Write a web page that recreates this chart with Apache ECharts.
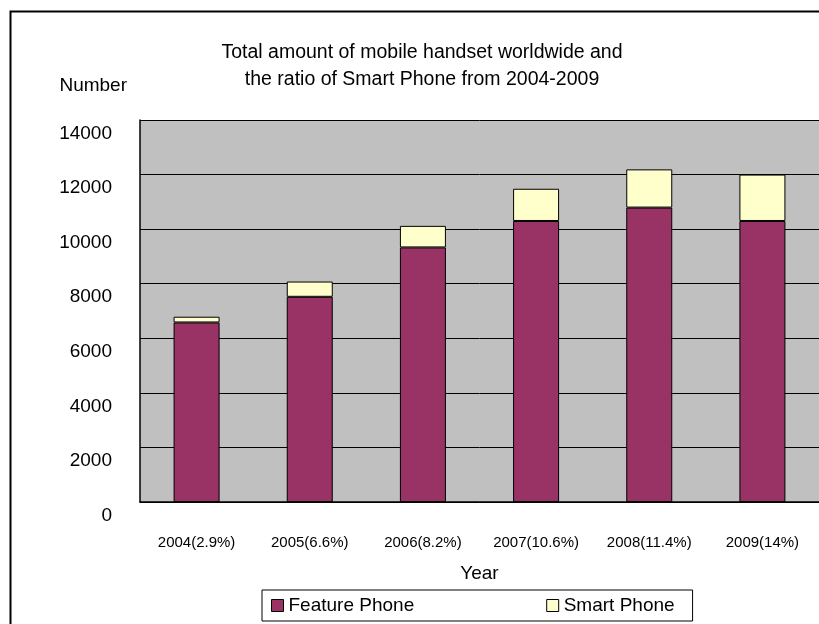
<!DOCTYPE html>
<html>
<head>
<meta charset="utf-8">
<script src="https://cdn.jsdelivr.net/npm/echarts@6/dist/echarts.min.js"></script>
<style>
  html, body { margin: 0; padding: 0; background: #fff; }
  #main { width: 819px; height: 624px; }
</style>
</head>
<body>
<div id="main"></div>
<script>
// data
var years = ['2004(2.9%)', '2005(6.6%)', '2006(8.2%)', '2007(10.6%)', '2008(11.4%)', '2009(14%)'];
var featurePhone = [6580, 7520, 9330, 10300, 10790, 10300];
var smartPhone = [210, 560, 790, 1180, 1400, 1700];
var yTicks = [0, 2000, 4000, 6000, 8000, 10000, 12000, 14000];

var font = '"Liberation Sans", Arial, sans-serif';
var chart = echarts.init(document.getElementById('main'), null, { renderer: 'canvas' });

function initOption() {
  return {
    backgroundColor: '#fff',
    animation: false,
    textStyle: { fontFamily: font, color: '#000' },
    title: {
      text: 'Total amount of mobile handset worldwide and\nthe ratio of Smart Phone from 2004-2009',
      left: 417,
      top: 34,
      textAlign: 'center',
      textStyle: { fontFamily: font, fontSize: 19.5, fontWeight: 'normal', color: '#000', lineHeight: 27 }
    },
    legend: {
      left: 262,
      top: 590,
      padding: [6, 18, 6, 9],
      borderColor: '#000',
      borderWidth: 1,
      itemGap: 132,
      itemWidth: 12,
      itemHeight: 12,
      icon: 'rect',
      textStyle: { fontFamily: font, fontSize: 19, color: '#000' },
      data: [
        { name: 'Feature Phone', itemStyle: { borderColor: '#000', borderWidth: 1 } },
        { name: 'Smart Phone', itemStyle: { borderColor: '#000', borderWidth: 1 } }
      ]
    },
    grid: { left: 140, top: 120, width: 681, bottom: 122, backgroundColor: '#C0C0C0', show: true, borderWidth: 0 },
    xAxis: {
      type: 'category',
      data: years,
      name: 'Year',
      nameLocation: 'middle',
      nameGap: 62,
      nameTextStyle: { fontFamily: font, fontSize: 19, color: '#000' },
      axisLine: { lineStyle: { color: '#000', width: 1.5 } },
      axisTick: { inside: true, length: 5, lineStyle: { color: '#000' } },
      axisLabel: { fontFamily: font, fontSize: 15, color: '#000', margin: 33, interval: 0, hideOverlap: false }
    },
    yAxis: {
      type: 'value',
      min: yTicks[0],
      max: yTicks[yTicks.length - 1],
      interval: 2000,
      name: 'Number',
      nameLocation: 'end',
      nameGap: 25,
      nameTextStyle: { fontFamily: font, fontSize: 19, color: '#000', align: 'right', padding: [0, 13, 0, 0] },
      axisLine: { show: true, lineStyle: { color: '#000', width: 1.5 } },
      axisTick: { show: true, inside: true, length: 5, lineStyle: { color: '#000' } },
      splitLine: { lineStyle: { color: '#000', width: 1 } },
      axisLabel: {
        fontFamily: font, fontSize: 19, color: '#000', margin: 28,
        verticalAlign: 'top', padding: [4, 0, 0, 0],
        formatter: function (v) { return String(v); }
      }
    },
    series: [{
      name: 'Feature Phone',
      type: 'bar',
      stack: 'total',
      barWidth: 46,
      itemStyle: { color: '#993366', borderColor: '#000', borderWidth: 1 },
      data: featurePhone
    }, {
      name: 'Smart Phone',
      type: 'bar',
      stack: 'total',
      barWidth: 46,
      itemStyle: { color: '#FFFFCC', borderColor: '#000', borderWidth: 1 },
      data: smartPhone
    }],
    graphic: [{
      // outer chart frame, clipped by the picture at right and bottom
      type: 'rect',
      left: 8,
      top: 9,
      shape: { width: 1000, height: 1000 },
      style: { fill: 'none', stroke: '#000', lineWidth: 2 },
      silent: true
    }]
  };
}

chart.setOption(initOption());
</script>
</body>
</html>
